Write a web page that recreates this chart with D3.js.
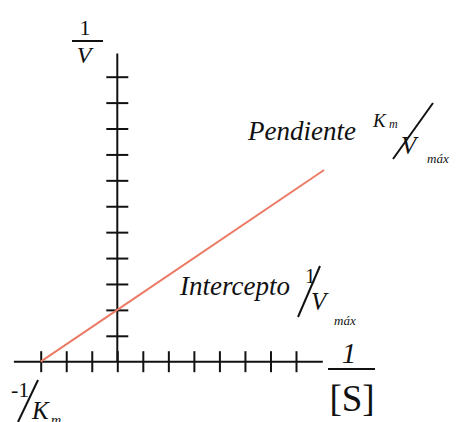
<!DOCTYPE html>
<html>
<head>
<meta charset="utf-8">
<script src="https://cdn.jsdelivr.net/npm/d3@7"></script>
<style>
  body { margin: 0; background: #fff; }
  svg { display: block; }
  text { font-family: 'Liberation Serif', 'DejaVu Serif', serif; fill: #111; }
  .tick line { stroke: #111; stroke-width: 2; }
</style>
</head>
<body>
<svg id="chart" width="459" height="422"></svg>
<script>
// tick positions on each axis (in tick units)
var xTicks = [-3, -2, -1, 0, 1, 2, 3, 4, 5, 6, 7];
var yTicks = [1, 2, 3, 4, 5, 6, 7, 8, 9, 10, 11];
// axis extents
var xExtent = [-4.05, 8.05];
var yExtent = [0, 11.9];
// Lineweaver-Burk line: starts at -1/Km, crosses 1/V axis at 1/Vmax
var lineX = [-3, 0, 8.1];
var lineY = [0, 2, 7.4];

(function () {
  var svg = d3.select('#chart');
  var x = d3.scaleLinear().domain([-3, 7]).range([40.7, 296]);
  var y = d3.scaleLinear().domain([0, 11]).range([361.7, 76.7]);

  function drawAxes () {
    svg.append('line')
      .attr('x1', x(xExtent[0])).attr('x2', x(xExtent[1]))
      .attr('y1', y(0)).attr('y2', y(0))
      .attr('stroke', '#111').attr('stroke-width', 2);
    svg.append('line')
      .attr('x1', x(0)).attr('x2', x(0))
      .attr('y1', y(yExtent[0])).attr('y2', y(yExtent[1]))
      .attr('stroke', '#111').attr('stroke-width', 2);

    // ticks cross the axis, so shift each axis group by half the tick size
    var xAxis = d3.axisBottom(x).tickValues(xTicks).tickSize(21).tickFormat('');
    svg.append('g')
      .attr('transform', 'translate(0,' + (y(0) - 10.5) + ')')
      .call(xAxis)
      .call(function (g) { g.select('.domain').remove(); });

    var yAxis = d3.axisRight(y).tickValues(yTicks).tickSize(22).tickFormat('');
    svg.append('g')
      .attr('transform', 'translate(' + (x(0) - 11) + ',0)')
      .call(yAxis)
      .call(function (g) { g.select('.domain').remove(); });
  }

  function drawLine () {
    var line = d3.line()
      .x(function (d, i) { return x(lineX[i]); })
      .y(function (d) { return y(d); });
    svg.append('path')
      .datum(lineY)
      .attr('d', line)
      .attr('fill', 'none')
      .attr('stroke', '#ec7b66')
      .attr('stroke-width', 2);
  }

  function addText (txt, px, py, size, italic, anchor) {
    return svg.append('text')
      .attr('x', px).attr('y', py)
      .attr('font-size', size)
      .attr('font-style', italic ? 'italic' : 'normal')
      .attr('text-anchor', anchor || 'start')
      .text(txt);
  }

  function addStroke (x1, y1, x2, y2) {
    svg.append('line')
      .attr('x1', x1).attr('y1', y1).attr('x2', x2).attr('y2', y2)
      .attr('stroke', '#111').attr('stroke-width', 2);
  }

  function drawLabels () {
    // 1/V
    addText('1', 85, 35, 22, false, 'middle');
    addStroke(72, 41, 103, 41);
    addText('V', 84, 63, 24, true, 'middle');

    // 1/[S]
    addText('1', 349, 363, 29, true, 'middle');
    addStroke(328, 369, 375, 369);
    addText('[S]', 352, 411, 37, false, 'middle');

    // -1/Km (cut by the bottom edge, as in the original)
    addText('-1', 11, 397, 22, false);
    addStroke(18, 422, 38, 380);
    addText('K', 32, 419, 25, true);
    addText('m', 51, 425, 14, true);

    // Pendiente Km/Vmax
    addText('Pendiente', 248, 140, 27, true);
    addText('K', 373, 127, 19, true);
    addText('m', 389, 128, 12, true);
    addStroke(393, 159, 433, 103);
    addText('V', 401, 154, 25, true);
    addText('máx', 427, 163, 13, true);

    // Intercepto 1/Vmax
    addText('Intercepto', 180, 295, 27, true);
    addText('1', 305, 283, 21, false);
    addStroke(298, 317, 320, 266);
    addText('V', 311, 310, 25, true);
    addText('máx', 334, 325, 13, true);
  }

  drawAxes();
  drawLine();
  drawLabels();
}());
</script>
</body>
</html>
